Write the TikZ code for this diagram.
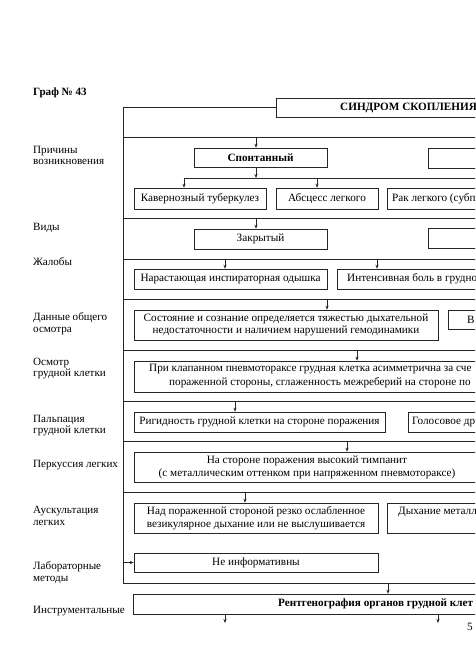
\documentclass[tikz,border=0pt]{standalone}
\usepackage{fontspec}
\setmainfont{Liberation Serif}
\usetikzlibrary{arrows.meta}
\tikzset{
  box/.style={draw=black!85, line width=0.6pt, inner sep=0pt, align=center, font=\fontsize{11.2}{12.5}\selectfont},
  txt/.style={inner sep=0pt, anchor=west, align=left, font=\fontsize{11.2}{12.5}\selectfont},
  lbl/.style={inner sep=0pt, anchor=west, align=left, font=\fontsize{11.1}{11.5}\selectfont},
  ln/.style={draw=black!85, line width=0.6pt},
  arr/.style={draw=black!85, line width=0.6pt, -{Stealth[length=4pt,width=3.2pt]}}
}
\begin{document}
\begin{tikzpicture}[x=1pt,y=-1pt]
\useasboundingbox (0,0) rectangle (475,671);
\clip (0,0) rectangle (475,671);
% title
\node[lbl, font=\fontsize{11.1}{11.5}\selectfont\bfseries] (graf) at (33,92.5) {Граф № 43};
\node[box, minimum width=344pt, minimum height=19pt] (title) at (448,107.5) {};
\node[txt, font=\fontsize{11.2}{12.5}\selectfont\bfseries] (titletxt) at (340,108) {СИНДРОМ СКОПЛЕНИЯ};
% frame
\coordinate (ftl) at (123,107.5);
\coordinate (fbl) at (123,583);
\coordinate (fbr) at (620,583);
\draw[ln] (title.west) -- (ftl) -- (fbl) -- (fbr);
\foreach \yy/\nm in {137/d1,218/d2,259/d3,299/d4,350/d5,401/d6,441/d7,492/d8}{
  \coordinate (\nm l) at (123,\yy);
  \coordinate (\nm r) at (620,\yy);
  \draw[ln] (\nm l) -- (\nm r);
}
% left labels
\node[lbl] (l1) at (33,155.5) {Причины\\возникновения};
\node[lbl] (l2) at (33,228) {Виды};
\node[lbl] (l3) at (33,262) {Жалобы};
\node[lbl] (l4) at (33,323.5) {Данные общего\\осмотра};
\node[lbl] (l5) at (33,368.5) {Осмотр\\грудной клетки};
\node[lbl] (l6) at (33,425.5) {Пальпация\\грудной клетки};
\node[lbl] (l7) at (33,465) {Перкуссия легких};
\node[lbl] (l8) at (33,516) {Аускультация\\легких};
\node[lbl] (l9) at (33,572.5) {Лабораторные\\методы};
\node[lbl] (l10) at (33,611) {Инструментальные};
% row 1: causes
\node[box, minimum width=133pt, minimum height=19pt, font=\fontsize{11.2}{12.5}\selectfont\bfseries] (spont) at (260.5,157.5) {Спонтанный};
\node[box, minimum width=192pt, minimum height=20pt] (cause2) at (524,158) {};
\coordinate (a1) at (256,137);
\draw[arr] (a1) -- (a1 |- spont.north);
\coordinate (bus) at (256,178);
\coordinate (busl) at (184,178);
\coordinate (busr) at (620,178);
\draw[arr] (bus |- spont.south) -- (bus);
\draw[ln] (busl) -- (busr);
\node[box, minimum width=132pt, minimum height=21pt] (kav) at (200,198.5) {Кавернозный туберкулез};
\node[box, minimum width=102pt, minimum height=21pt] (absc) at (327,198.5) {Абсцесс легкого};
\node[box, minimum width=233pt, minimum height=21pt] (rak) at (503.5,198.5) {};
\node[txt] (raktxt) at (392,198.5) {Рак легкого (субп};
\coordinate (b2) at (317,178);
\draw[arr] (busl) -- (busl |- kav.north);
\draw[arr] (b2) -- (b2 |- absc.north);
% row 2: types
\node[box, minimum width=133pt, minimum height=20pt] (zakr) at (260.5,239) {Закрытый};
\node[box, minimum width=192pt, minimum height=20pt] (vid2) at (524,238.5) {};
\coordinate (a2) at (256,218);
\draw[arr] (a2) -- (a2 |- zakr.north);
% row 3: complaints
\node[box, minimum width=193pt, minimum height=20pt] (nar) at (230.5,279) {Нарастающая инспираторная одышка};
\node[box, minimum width=283pt, minimum height=20pt] (intb) at (478.5,279) {};
\node[txt] (inttxt) at (347,279) {Интенсивная боль в грудно};
\coordinate (a3) at (225,259);
\coordinate (a3b) at (377,259);
\draw[arr] (a3) -- (a3 |- nar.north);
\draw[arr] (a3b) -- (a3b |- intb.north);
% row 4: general exam
\node[box, minimum width=304pt, minimum height=30pt] (sost) at (286,325) {Состояние и сознание определяется тяжестью дыхательной\\недостаточности и наличием нарушений гемодинамики};
\node[box, minimum width=172pt, minimum height=19pt] (vbox) at (534,319.5) {};
\node[txt] (vtxt) at (467,319.5) {В};
\coordinate (a4) at (327,299);
\draw[arr] (a4) -- (a4 |- sost.north);
% row 5: chest inspection
\node[box, minimum width=486pt, minimum height=31pt] (osm) at (377,376.5) {};
\node[txt] (osm1) at (149,369.5) {При клапанном пневмотораксе грудная клетка асимметрична за сче};
\node[txt] (osm2) at (169,382.5) {пораженной стороны, сглаженность межреберий на стороне по};
\coordinate (a5) at (357,350);
\draw[arr] (a5) -- (a5 |- osm.north);
% row 6: palpation
\node[box, minimum width=251pt, minimum height=20pt] (rig) at (259.5,422) {Ригидность грудной клетки на стороне поражения};
\node[box, minimum width=212pt, minimum height=20pt] (gol) at (514,422) {};
\node[txt] (goltxt) at (412,422) {Голосовое др};
\coordinate (a6) at (235,401);
\draw[arr] (a6) -- (a6 |- rig.north);
% row 7: percussion
\node[box, minimum width=486pt, minimum height=30pt] (perk) at (377,467) {};
\node[inner sep=0pt, align=center, font=\fontsize{11.2}{12.5}\selectfont] (perktxt) at (307,467.5) {На стороне поражения высокий тимпанит\\(с металлическим оттенком при напряженном пневмотораксе)};
\coordinate (a7) at (347,441);
\draw[arr] (a7) -- (a7 |- perk.north);
% row 8: auscultation
\node[box, minimum width=244pt, minimum height=30pt] (nad) at (256,518) {Над пораженной стороной резко ослабленное\\везикулярное дыхание или не выслушивается};
\node[box, minimum width=233pt, minimum height=30pt] (dyh) at (503.5,518) {};
\node[txt] (dyhtxt) at (398,512) {Дыхание металл};
\coordinate (a8) at (245,492);
\draw[arr] (a8) -- (a8 |- nad.north);
% row 9: lab
\node[box, minimum width=244pt, minimum height=19pt] (ne) at (256,562.5) {Не информативны};
\coordinate (a9) at (123,562.5);
\draw[arr] (a9) -- (ne.west);
% row 10: instrumental
\node[box, minimum width=487pt, minimum height=20pt] (rent) at (376.5,604) {};
\node[txt, font=\fontsize{11.2}{12.5}\selectfont\bfseries] (renttxt) at (278,604) {Рентгенография органов грудной клет};
\coordinate (a10) at (388,583);
\draw[arr] (a10) -- (a10 |- rent.north);
\coordinate (o1) at (225,623);
\coordinate (o2) at (438,623);
\draw[arr] (o1 |- rent.south) -- (o1);
\draw[arr] (o2 |- rent.south) -- (o2);
% page number
\node[txt] (pg) at (467,627) {5};
\end{tikzpicture}
\end{document}
